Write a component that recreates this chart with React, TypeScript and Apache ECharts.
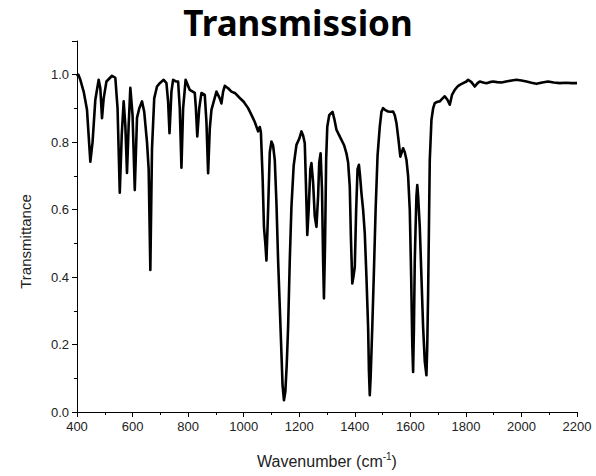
import React, { useEffect, useRef } from 'react';
import * as echarts from 'echarts';

const titleText = 'Transmission';
const xName = 'Wavenumber (cm{sup|-1})';
const yName = 'Transmittance';

const wavenumbers = [
  400, 405, 412, 424, 436, 448, 456, 466, 478, 484, 490, 496, 506, 526, 538, 546, 554, 561, 568, 574,
  580, 586, 592, 600, 608, 616, 624, 634, 642, 652, 658, 664, 670, 678, 688, 698, 712, 722, 728, 733,
  740, 746, 756, 764, 770, 776, 782, 791, 806, 824, 828, 833, 840, 848, 860, 866, 872, 878, 884, 902,
  914, 920, 926, 932, 944, 956, 970, 986, 1000, 1016, 1028, 1040, 1052, 1058, 1062, 1068, 1073, 1078, 1082, 1088,
  1094, 1100, 1106, 1112, 1118, 1124, 1134, 1140, 1145, 1150, 1155, 1160, 1166, 1172, 1180, 1190, 1200, 1208, 1214, 1220,
  1224, 1229, 1234, 1240, 1244, 1250, 1256, 1262, 1268, 1272, 1277, 1282, 1286, 1289, 1293, 1297, 1301, 1308, 1314, 1320,
  1326, 1334, 1344, 1352, 1362, 1370, 1376, 1382, 1386, 1391, 1395, 1400, 1405, 1410, 1415, 1419, 1424, 1430, 1436, 1442,
  1448, 1451, 1454, 1457, 1463, 1469, 1475, 1482, 1490, 1496, 1502, 1510, 1520, 1530, 1538, 1544, 1550, 1557, 1564, 1569,
  1574, 1580, 1586, 1592, 1598, 1603, 1607, 1610, 1613, 1616, 1619, 1622, 1625, 1628, 1634, 1640, 1646, 1652, 1658, 1661,
  1664, 1667, 1670, 1676, 1682, 1688, 1698, 1706, 1716, 1724, 1734, 1742, 1750, 1760, 1770, 1778, 1790, 1802, 1808, 1820,
  1832, 1842, 1850, 1862, 1874, 1886, 1898, 1912, 1928, 1945, 1965, 1982, 2000, 2018, 2036, 2054, 2075, 2096, 2116, 2138,
  2160, 2180, 2200,
];

const transmittance = [
  0.995, 1.0, 0.985, 0.95, 0.896, 0.742, 0.8, 0.926, 0.985, 0.96, 0.871, 0.93, 0.98, 0.997, 0.991, 0.9, 0.65, 0.82, 0.921, 0.85,
  0.709, 0.85, 0.961, 0.88, 0.658, 0.872, 0.9, 0.921, 0.89, 0.8, 0.72, 0.421, 0.78, 0.93, 0.965, 0.975, 0.985, 0.975, 0.92, 0.827,
  0.95, 0.985, 0.98, 0.98, 0.9, 0.724, 0.9, 0.985, 0.955, 0.946, 0.9, 0.817, 0.9, 0.946, 0.94, 0.86, 0.708, 0.84, 0.896, 0.95,
  0.93, 0.915, 0.95, 0.967, 0.96, 0.95, 0.945, 0.931, 0.92, 0.901, 0.881, 0.86, 0.832, 0.845, 0.83, 0.7, 0.549, 0.5, 0.449, 0.6,
  0.77, 0.802, 0.79, 0.747, 0.62, 0.449, 0.22, 0.08, 0.035, 0.06, 0.14, 0.252, 0.45, 0.609, 0.73, 0.792, 0.81, 0.832, 0.82, 0.797,
  0.68, 0.525, 0.6, 0.72, 0.738, 0.68, 0.58, 0.549, 0.64, 0.74, 0.767, 0.66, 0.45, 0.337, 0.5, 0.75, 0.846, 0.88, 0.885, 0.89,
  0.87, 0.837, 0.82, 0.807, 0.79, 0.767, 0.74, 0.668, 0.52, 0.381, 0.4, 0.43, 0.6, 0.72, 0.733, 0.7, 0.649, 0.6, 0.53, 0.4,
  0.252, 0.12, 0.05, 0.1, 0.252, 0.42, 0.599, 0.76, 0.846, 0.89, 0.901, 0.895, 0.891, 0.89, 0.891, 0.88, 0.857, 0.81, 0.757, 0.77,
  0.782, 0.77, 0.748, 0.7, 0.599, 0.4, 0.2, 0.119, 0.25, 0.45, 0.549, 0.64, 0.673, 0.64, 0.549, 0.4, 0.252, 0.15, 0.109, 0.2,
  0.352, 0.55, 0.747, 0.866, 0.9, 0.916, 0.92, 0.921, 0.93, 0.936, 0.925, 0.911, 0.94, 0.955, 0.965, 0.97, 0.975, 0.98, 0.985, 0.978,
  0.965, 0.975, 0.98, 0.977, 0.975, 0.978, 0.98, 0.978, 0.977, 0.98, 0.983, 0.985, 0.983, 0.98, 0.976, 0.973, 0.977, 0.98, 0.977, 0.975,
  0.976, 0.975, 0.975,
];

const xMin = 400;
const xMax = 2200;
const xStep = 200;
const yMin = 0;
const yMax = 1.1;
const yStep = 0.2;

export default function App() {
  const ref = useRef<HTMLDivElement>(null);
  useEffect(() => {
    if (!ref.current) return;
    const chart = echarts.init(ref.current, undefined, { renderer: 'svg' });
    const data = wavenumbers.map((w, i) => [w, transmittance[i]]);
    const axisFont = { color: '#222', fontSize: 13, fontFamily: 'Liberation Sans, Arial, sans-serif' };
    chart.setOption({
      animation: false,
      backgroundColor: '#fff',
      title: {
        text: titleText,
        left: 'center',
        top: 0,
        textStyle: { fontSize: 35, fontWeight: 'bold', color: '#000', fontFamily: 'Noto Sans, Open Sans, sans-serif' },
      },
      grid: { left: 77, right: 19, top: 41, bottom: 64 },
      xAxis: {
        type: 'value',
        min: xMin,
        max: xMax,
        interval: xStep,
        name: xName,
        nameLocation: 'middle',
        nameGap: 39,
        nameTextStyle: {
          color: '#222',
          fontSize: 16,
          fontFamily: 'Liberation Sans, Arial, sans-serif',
          rich: {
            sup: { fontSize: 10, verticalAlign: 'top', padding: [0, 0, 10, 0], color: '#222' },
          },
        },
        axisLine: { show: true, lineStyle: { color: '#000', width: 1 } },
        axisTick: { show: true, length: 5, lineStyle: { color: '#000' } },
        minorTick: { show: true, splitNumber: 2, length: 3, lineStyle: { color: '#000' } },
        axisLabel: { ...axisFont, margin: 8, formatter: (v: number) => String(v) },
        splitLine: { show: false },
      },
      yAxis: {
        type: 'value',
        min: yMin,
        max: yMax,
        interval: yStep,
        name: yName,
        nameLocation: 'middle',
        nameGap: 44,
        nameTextStyle: {
          color: '#222',
          fontSize: 15,
          fontFamily: 'Liberation Sans, Arial, sans-serif',
          padding: [0, 30, 0, 0],
        },
        axisLine: { show: true, lineStyle: { color: '#000', width: 1 } },
        axisTick: { show: true, length: 5, lineStyle: { color: '#000' } },
        minorTick: { show: true, splitNumber: 2, length: 3, lineStyle: { color: '#000' } },
        axisLabel: { ...axisFont, margin: 8, showMaxLabel: false, formatter: (v: number) => v.toFixed(1) },
        splitLine: { show: false },
      },
      series: [
        {
          type: 'line',
          data,
          symbol: 'none',
          smooth: false,
          lineStyle: { color: '#000', width: 2.6, join: 'round' },
        },
      ],
    });
    return () => chart.dispose();
  }, []);
  return <div ref={ref} style={{ position: 'fixed', left: 0, top: 0, width: 596, height: 476 }} />;
}
